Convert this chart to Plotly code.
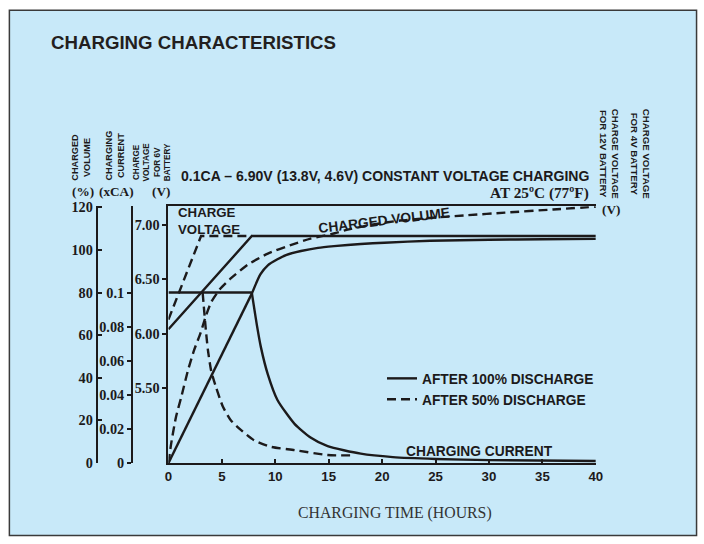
import plotly.graph_objects as go

W, H = 704, 544

# ---------------- data ----------------
hours_ticks = [0, 5, 10, 15, 20, 25, 30, 35, 40]

# charged volume (%)
vol100_h = [0, 7.8, 8.6, 9.3, 10.2, 11.0, 12.4, 14.0, 15.5, 18.0, 20.2, 24.5, 30.0, 35.0, 40.0]
vol100 = [0, 79.5, 88.5, 92.8, 95.6, 97.6, 99.5, 101.0, 101.8, 102.8, 103.4, 104.3, 104.8, 105.0, 105.2]
vol50_h = [0, 0.25, 0.7, 1.2, 1.8, 2.4, 3.0, 3.5, 4.0, 4.8, 5.8, 7.4, 9.3, 11.5, 13.3, 15.2, 17.0,
           19.0, 21.7, 25.0, 28.0, 31.5, 36.0, 40.0]
vol50 = [0, 9, 21.5, 31, 43, 53, 61, 69, 75.5, 81.5, 86.5, 93.0, 98.3, 102.4, 105.3, 107.4, 109.8,
         111.8, 113.8, 115.2, 116.3, 117.5, 119.0, 120.3]

# charging current (xCA)
cur100_h = [0, 7.8, 8.3, 8.65, 9.3, 10.2, 11.8, 13.3, 14.9, 18.0, 21.0, 25.0, 30.0, 40.0]
cur100 = [0.1, 0.1, 0.08, 0.068, 0.052, 0.037, 0.023, 0.015, 0.0099, 0.0055, 0.0035, 0.0024, 0.0017, 0.0012]
cur50_h = [0, 3.2, 3.5, 3.7, 4.0, 4.45, 5.1, 5.85, 6.8, 8.0, 9.6, 11.8, 14.9, 17.0]
cur50 = [0.1, 0.1, 0.078, 0.066, 0.054, 0.0445, 0.033, 0.025, 0.0193, 0.0134, 0.0095, 0.0076, 0.0047, 0.0045]

# charge voltage (V, 6V battery)
volt100_h = [0, 7.8, 40]
volt100 = [6.04, 6.90, 6.90]
volt50_h = [0, 3.05, 7.8]
volt50 = [6.13, 6.90, 6.90]

# axis ticks
pct_ticks = [0, 20, 40, 60, 80, 100, 120]
ca_ticks = [0, 0.02, 0.04, 0.06, 0.08, 0.1]
ca_text = ["0", "0.02", "0.04", "0.06", "0.08", "0.1"]
v6_ticks = [5.5, 6.0, 6.5, 7.0]
v6_text = ["5.50", "6.00", "6.50", "7.00"]
v12_ticks = [11.0, 12.0, 13.0, 14.0]
v12_text = ["11.0", "12.0", "13.0", "14.0"]
v4_ticks = [3.5, 4.0, 4.5]
v4_text = ["3.50", "4.00", "4.50"]

# ---------------- styling helpers ----------------
INK = "#1c1a1b"
BLUE = "#c8e9f9"
DASH = "9px,5px"
LW = 2.4

# the photographed page is slightly shrunk; map target picture pixels to page pixels
SX, OX = 0.987, 2.6
SY, OY = 0.977, 4.8
FS = 1.02  # font compensation


def px(x):
    return ((x - OX) / SX) / W


def py(y):
    return 1 - ((y - OY) / SY) / H


fig = go.Figure()


def line(xs, ys, axis, dash=None, spline=False, name=None, legend=False):
    ln = dict(color=INK, width=LW)
    if dash:
        ln["dash"] = dash
    if spline:
        ln["shape"] = "spline"
        ln["smoothing"] = 0.6
    fig.add_trace(go.Scatter(x=xs, y=ys, mode="lines", line=ln, yaxis=axis,
                             name=name, showlegend=legend, hoverinfo="skip"))


# charged volume: straight rise then smooth curve (solid), smooth (dashed)
line(vol100_h[:2], vol100[:2], "y", name="<b>AFTER 100% DISCHARGE</b>", legend=True)
line(vol100_h[1:], vol100[1:], "y", spline=True)
line(vol50_h, vol50, "y", dash=DASH, spline=True, name="<b>AFTER 50% DISCHARGE</b>", legend=True)
# charging current: constant then decay
line(cur100_h[:2], cur100[:2], "y2")
line(cur100_h[1:], cur100[1:], "y2", spline=True)
line(cur50_h[1:], cur50[1:], "y2", dash=DASH, spline=True)
# charge voltage
line(volt100_h, volt100, "y3")
line(volt50_h, volt50, "y3", dash=DASH)

TOP, BOT = 205, 463
ydom = [py(BOT), py(TOP)]

pct_range = [0, 120.5]
ca_range = [0, 120.5 / 800]
v6_per_px = 1 / 109.0
v6_range = [6.0 - (BOT - 333) * v6_per_px, 6.0 + (333 - TOP) * v6_per_px]
v12_range = [2 * v6_range[0], 2 * v6_range[1]]
v4_per_px = 1 / 155.0
v4_range = [4.0 - (BOT - 333.5) * v4_per_px, 4.0 + (333.5 - TOP) * v4_per_px]

serif_tick = dict(family="Liberation Serif", size=14 * FS, color=INK, weight="bold")
common = dict(showgrid=False, zeroline=False, showline=True, linecolor=INK, linewidth=2,
              tickcolor=INK, tickwidth=2, ticklen=4, tickfont=serif_tick)

fig.update_layout(
    width=W, height=H,
    margin=dict(l=0, r=0, t=0, b=0),
    paper_bgcolor="white",
    plot_bgcolor="rgba(0,0,0,0)",
    xaxis=dict(domain=[px(167.5), px(596)], range=[0, 40], tickvals=hours_ticks,
               ticks="inside", showgrid=False, zeroline=False, showline=True, mirror=True,
               linecolor=INK, linewidth=2, tickcolor=INK, tickwidth=1.5, ticklen=4,
               tickfont=dict(family="Liberation Sans", size=13 * FS, color=INK, weight="bold")),
    yaxis=dict(domain=ydom, range=pct_range, tickvals=pct_ticks, anchor="free",
               position=px(95.5), side="left", ticks="inside", **common),
    yaxis2=dict(domain=ydom, range=ca_range, tickvals=ca_ticks, ticktext=ca_text, anchor="free",
                position=px(131), side="left", overlaying="y", ticks="outside", **common),
    yaxis3=dict(domain=ydom, range=v6_range, tickvals=v6_ticks, ticktext=v6_text, anchor="x",
                side="left", overlaying="y", ticks="outside", **common),
    yaxis4=dict(domain=ydom, range=v12_range, tickvals=v12_ticks, ticktext=v12_text, anchor="x",
                side="right", overlaying="y", ticks="inside", **common),
    yaxis5=dict(domain=ydom, range=v4_range, tickvals=v4_ticks, ticktext=v4_text, anchor="free",
                position=px(643), side="right", overlaying="y", ticks="inside", **common),
    legend=dict(x=384 / W, y=1 - 366 / H, xanchor="left", yanchor="top", bgcolor="rgba(0,0,0,0)",
                font=dict(family="Liberation Sans", size=13.5 * FS, color=INK), tracegroupgap=0,
                itemwidth=30),
    showlegend=True,
)

# outer light blue panel
fig.add_shape(type="rect", xref="paper", yref="paper", x0=px(8), x1=px(697), y0=max(py(537), 0.001),
              y1=py(8), fillcolor=BLUE, line=dict(color="#3a3a3a", width=1.5), layer="below")


def ann(text, x, y, size=12, family="Liberation Sans", xanchor="center", yanchor="middle",
        angle=0, color=INK, align="center"):
    fig.add_annotation(text=text, x=px(x), y=py(y), xref="paper", yref="paper", showarrow=False,
                       xanchor=xanchor, yanchor=yanchor, textangle=angle, align=align,
                       font=dict(family=family, size=size * FS, color=color))


ann("<b>CHARGING CHARACTERISTICS</b>", 48, 40, size=18.3, xanchor="left", color="#231f20")
ann("<b>0.1CA – 6.90V (13.8V, 4.6V) CONSTANT VOLTAGE CHARGING</b>", 591, 175, size=13.8,
    xanchor="right")
ann("<b>AT 25ºC (77ºF)</b>", 591, 192, size=15, family="Liberation Serif", xanchor="right")
ann("<b>CHARGE<br>VOLTAGE</b>", 175, 220, size=13, xanchor="left", align="left")
ann("<b>CHARGED VOLUME</b>", 384, 219, size=13.5, angle=-7)
ann("<b>CHARGING CURRENT</b>", 479, 451, size=13.5)
ann("CHARGING TIME (HOURS)", 395, 513, size=15.5, family="Liberation Serif", color="#333333")

# axis unit headers
ann("<b>(%)</b>", 82, 190, size=13, family="Liberation Serif")
ann("<b>(xCA)</b>", 115, 190, size=13, family="Liberation Serif")
ann("<b>(V)</b>", 160, 190, size=13, family="Liberation Serif")
ann("<b>(V)</b>", 611, 208, size=13, family="Liberation Serif")

# rotated axis captions
ann("<b>CHARGED<br>VOLUME</b>", 80, 156, size=9, angle=-90)
ann("<b>CHARGING<br>CURRENT</b>", 113, 154, size=9, angle=-90)
ann("<b>CHARGE<br>VOLTAGE<br>FOR 6V<br>BATTERY</b>", 151, 161, size=8, angle=-90)
ann("<b>CHARGE VOLTAGE<br>FOR 12V BATTERY</b>", 610, 152, size=9.5, angle=90)
ann("<b>CHARGE VOLTAGE<br>FOR 4V BATTERY</b>", 641, 152, size=9.5, angle=90)

fig.write_html(
    "out.html",
    config={"displayModeBar": False},
    post_script="document.body.style.margin='0';document.body.style.padding='0';"
                "document.documentElement.style.overflow='hidden';document.body.style.overflow='hidden';",
)
